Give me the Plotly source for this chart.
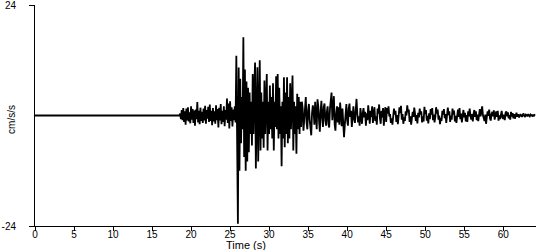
import plotly.graph_objects as go

# Quiet pre-event portion (s, cm/s/s)
quiet_times = [0.0, 18.5]
quiet_values = [0.0, 0.0]

# Recorded motion sampled every 0.1 s starting at 18.6 s
record_start = 18.6
sample_interval = 0.1

p_wave = [
    0.4, -0.8, 1.2, -1.0, 1.6, -1.4, 0.9, -2.0, 1.5, -1.1,
    1.8, -1.3, 0.7, -1.7, 2.0, -0.9, 1.4, -1.6, 1.1, -2.2,
    1.3, -0.8, 2.9, -1.5, 1.0, -1.9, 1.7, -1.2, 0.8, -1.6,
    1.5, -1.1, 2.1, -1.8, 1.2, -0.7, 1.9, -1.4, 2.4, -1.2,
    1.0, -2.1, 1.6, -1.3, 0.9, -1.8, 2.2, -1.0, 1.4, -2.6,
    1.7, -1.1, 2.5, -1.9, 1.0, -1.4, 2.0, -2.3, 1.2, -0.9,
    3.7, -1.6, 2.6, -2.8, 3.1, -1.2, 1.8, -2.4, 1.3, -1.0, 2.0, -1.5,
]

strong_motion = [
    13.0, -5.0, -23.5, 10.4, -12.0, 8.0, -6.0, 4.0, -3.0, 17.0,
    -9.0, 10.0, -12.0, 7.4, -10.0, 6.0, -8.0, 5.0, -4.0, 3.0,
    -6.5, 9.0, -4.0, 6.0, 11.5, -11.5, 5.0, 10.5, -10.0, 4.0,
    12.0, -7.6, 5.0, -5.0, 3.0, -7.0, 7.6, -4.0, 4.0, 9.0,
    -7.6, 3.0, -4.0, 6.5, -3.0, 4.0, -5.0, 7.0, -7.6, 3.0,
    -2.5, 8.5, -3.0, 9.0, -5.0, 6.0, -4.0, 2.0, -11.0, 3.0,
    -5.0, 8.3, -6.9, 5.0, -4.0, 8.3, -6.0, 4.0, -5.0, 7.0,
    -3.0, 5.0, 8.7, -7.6, 3.0, -4.0, 2.0, -8.3, 4.7, -3.0,
    4.0, -4.0, 3.0,
]

early_coda = [
    -2.5, 3.0, 1.5, -3.3, -1.0, 2.6, 4.0, -1.5, -3.0, 1.2,
    2.5, -1.0, -2.8, -4.3, 0.5, 2.2, 1.0, -2.0, 3.0, -1.5,
    -3.0, 3.5, 2.0, -1.2, -3.5, 1.0, 3.2, -0.5, -2.5, 1.8,
    2.6, -1.0, -2.2, 0.8, 2.0, -1.8, -2.6, 1.5, 3.0, 5.0,
    -1.0, 2.5, 4.2, -2.0, -3.3, 0.5, 2.0, -1.5, 1.8, -2.0,
    2.8, 0.5, -2.3, 1.5, -1.0, -4.7, -2.0, 1.8, 2.5, -1.0,
    -2.2, 1.5, 2.6, -0.3, 1.0, -2.5, 0.2, 2.0, -0.8, -1.6,
    1.2, 3.6, 0.4, -1.5, -0.2, -2.2, 1.6, 0.3, -1.8, 0.5,
    1.6, -0.4, 0.8, -2.2, 0.5, -1.0, 2.2, 0.2, -1.8, 1.0,
    -0.3, 2.0, -1.6, 0.2, 1.8, -1.2, -0.2, -2.0, 1.5, 0.4,
    2.4, -0.6, -1.8, 1.0, -0.4, 1.6, -2.2, 0.4, 1.8, -1.4,
]

late_coda = [
    1.6, 0.4, 2.0, -0.2, 0.3, -1.6, -0.6, -2.0, -0.3, 1.5,
    0.2, 1.0, -1.4, 0.1, -1.9, 0.4, 1.8, 0.5, 2.1, -0.9,
    0.3, -1.8, -0.4, -1.2, 0.9, 0.0, 2.2, 0.7, 1.3, -1.4,
    -0.2, -2.0, -0.6, 0.8, -0.3, 1.7, 0.4, -1.2, 0.1, -1.7,
    0.6, -0.4, 1.5, 0.2, 0.9, -1.5, -0.2, -1.3, 1.9, 0.3,
    1.2, -1.1, -0.1, -1.7, 0.5, -0.8, 1.4, 0.2, 1.6, -1.0,
    0.2, -1.5, -0.3, 1.8, 0.4, 1.3, -0.9, 0.0, -1.9, -0.5,
    -1.2, 1.0, 0.2, 1.4, -0.6, 0.3, -1.6, -0.2, 1.7, 0.1,
    0.9, -1.4, 0.0, -0.9, 1.5, 0.2, 1.1, -1.3, -0.1, -1.6,
    0.5, 1.3, -0.3, 1.6, -0.8, 0.4, -1.5, 0.0, 1.2, -0.4,
    0.6, -1.3, 0.1, -1.4, 0.9, -0.2, 1.5, 0.0, -0.9, 0.3,
    -1.3, 0.4, 1.2, -0.3, 0.9, -1.0, 0.2, -1.2, 0.8, 1.4,
    -0.2, 1.2, 2.0, 0.1, -0.8, -1.2, 0.2, -1.8, -0.3, 0.9,
    -0.1, 1.3, -0.6, -1.1, 0.3, 0.8, -0.2, 1.1, -0.9, 0.1,
    0.9, -0.3, 1.0, -1.1, 0.0, -0.8, 0.6, 1.0, -0.4, -0.7,
    0.2, -1.0, 0.6, 0.9, -0.2, 0.7, -0.6, 0.1, -0.9, 0.8,
    -0.2, 0.5, -0.6, 0.3, -0.7, 0.4, 0.6, -0.3, 0.3, -0.4,
]

tail = [
    -0.2, 0.3, 0.1, -0.3, 0.2, 0.4, -0.1, -0.3, 0.2, 0.1,
    -0.2, 0.3, 0.0, -0.2, 0.2, 0.1, -0.1, 0.2, -0.2, 0.1, 0.0,
]

y_tick_vals = [-24, 24]
y_tick_text = ["-24", "24"]
x_tick_vals = [0, 5, 10, 15, 20, 25, 30, 35, 40, 45, 50, 55, 60]
x_tick_text = [str(v) for v in x_tick_vals]

record = p_wave + strong_motion + early_coda + late_coda + tail
rec_times = [round(record_start + i * sample_interval, 3) for i in range(len(record))]
times = quiet_times + rec_times
values = quiet_values + record

fig = go.Figure()
fig.add_trace(go.Scatter(x=times, y=values, mode="lines",
                         line=dict(color="black", width=1.8), hoverinfo="skip"))

tick_font = dict(family="Liberation Sans, Arial, sans-serif", size=10, color="black")
title_font = dict(family="Liberation Sans, Arial, sans-serif", size=11, color="black")

fig.update_layout(
    width=550, height=250,
    margin=dict(l=35, r=14, t=5, b=24),
    paper_bgcolor="white", plot_bgcolor="white",
    showlegend=False,
    font=tick_font,
    xaxis=dict(range=[0, 64.2], tickvals=x_tick_vals, ticktext=x_tick_text,
               showgrid=False, zeroline=False, showline=True, linecolor="black",
               linewidth=1, ticks="outside", ticklen=4, tickcolor="black",
               tickfont=tick_font, automargin=False, ticklabelstandoff=-5),
    yaxis=dict(range=[-24, 24], tickvals=y_tick_vals, ticktext=y_tick_text,
               showgrid=False, zeroline=False, showline=True, linecolor="black",
               linewidth=1, ticks="outside", ticklen=5, tickcolor="black",
               tickfont=tick_font, ticklabelstandoff=11, automargin=False,
               ticklabeloverflow="allow"),
    annotations=[
        dict(text="Time (s)", xref="paper", yref="paper", x=0.422, y=0,
             yshift=-18.5, xanchor="center", yanchor="middle", showarrow=False,
             font=title_font),
        dict(text="cm/s/s", xref="paper", yref="paper", x=0, xshift=-23,
             y=0.48, textangle=-90, xanchor="center", yanchor="middle",
             showarrow=False, font=tick_font),
    ],
)

fig.write_html("out.html")
